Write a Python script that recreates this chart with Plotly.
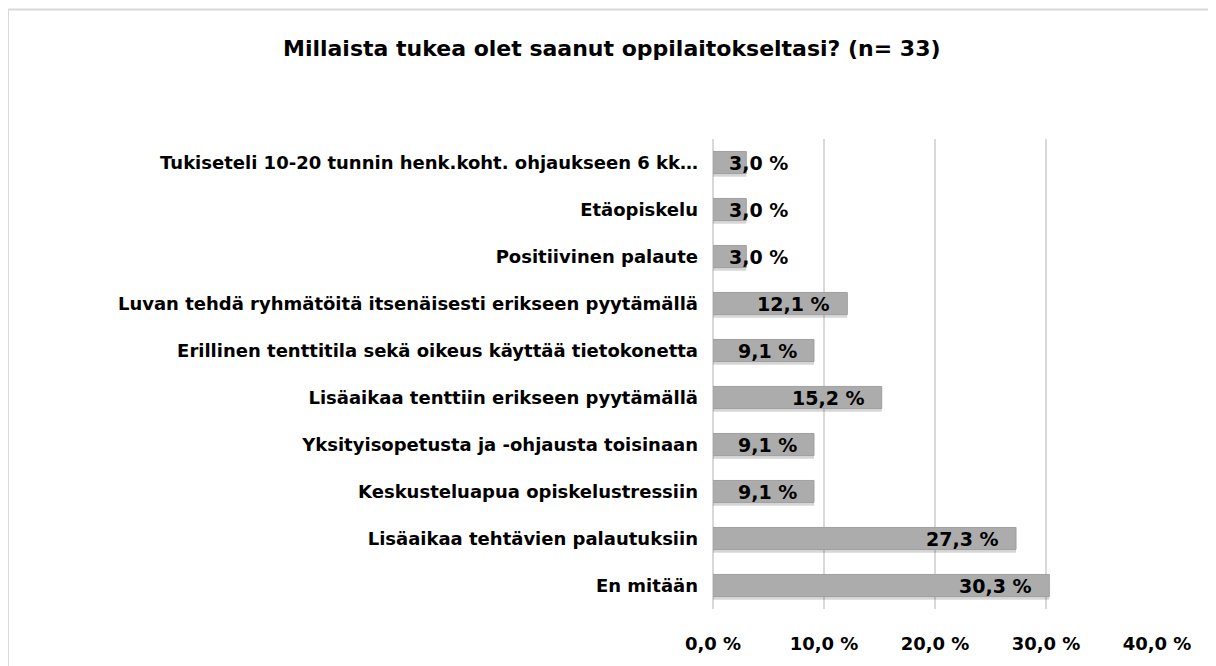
import plotly.graph_objects as go

categories = [
    "Tukiseteli 10-20 tunnin henk.koht. ohjaukseen 6 kk…",
    "Etäopiskelu",
    "Positiivinen palaute",
    "Luvan tehdä ryhmätöitä itsenäisesti erikseen pyytämällä",
    "Erillinen tenttitila sekä oikeus käyttää tietokonetta",
    "Lisäaikaa tenttiin erikseen pyytämällä",
    "Yksityisopetusta ja -ohjausta toisinaan",
    "Keskusteluapua opiskelustressiin",
    "Lisäaikaa tehtävien palautuksiin",
    "En mitään",
]
values = [3.0, 3.0, 3.0, 12.1, 9.1, 15.2, 9.1, 9.1, 27.3, 30.3]
tick_vals = [0, 10, 20, 30, 40]
tick_text = ["0,0 %", "10,0 %", "20,0 %", "30,0 %", "40,0 %"]

FONT = "DejaVu Sans"

# page has an 8px body margin, so the figure is 8px smaller than the window
W, H = 1208, 658
ml, mr, mt, mb = 705, 59, 131, 52
pw, ph = W - ml - mr, H - mt - mb

BW = 0.47
fig = go.Figure()
# soft shadow beneath each bar
fig.add_trace(go.Bar(
    y=categories, x=values, orientation="h",
    width=BW, offset=-BW / 2 + 0.07,
    marker=dict(color="rgba(0,0,0,0.16)", line=dict(width=0)),
    hoverinfo="skip",
))
fig.add_trace(go.Bar(
    y=categories, x=values, orientation="h",
    width=BW, offset=-BW / 2,
    marker=dict(color="#acacac", line=dict(color="#a0a0a0", width=1)),
    hoverinfo="skip",
))

annotations = []
for c, v in zip(categories, values):
    label = "<b>" + f"{v:.1f}".replace(".", ",") + " %</b>"
    if v >= 8:
        annotations.append(dict(x=v, y=c, xref="x", yref="y", text=label,
                                xanchor="right", xshift=-15, showarrow=False,
                                font=dict(family=FONT, size=19, color="#000000")))
    else:
        annotations.append(dict(x=0, y=c, xref="x", yref="y", text=label,
                                xanchor="left", xshift=14, showarrow=False,
                                font=dict(family=FONT, size=19, color="#000000")))

annotations.append(dict(
    x=(W / 2 - ml) / pw, y=(H - 40 - mb) / ph, xref="paper", yref="paper",
    text="<b>Millaista tukea olet saanut oppilaitokseltasi? (n= 33)</b>",
    showarrow=False, xanchor="center", yanchor="middle",
    font=dict(family=FONT, size=22, color="#000000")))

fig.update_layout(
    width=W, height=H,
    margin=dict(l=ml, r=mr, t=mt, b=mb),
    paper_bgcolor="white", plot_bgcolor="white",
    barmode="overlay", showlegend=False,
    annotations=annotations,
    font=dict(family=FONT, color="#000000"),
    shapes=[dict(type="rect", xref="paper", yref="paper",
                 x0=(0 - ml) / pw, x1=(1205 - ml) / pw,
                 y0=(H - 700 - mb) / ph, y1=(H - 0 - mb) / ph,
                 line=dict(color="#d9d9d9", width=2), fillcolor="rgba(0,0,0,0)",
                 layer="below")],
)
fig.update_xaxes(range=[0, 40], tickvals=tick_vals, ticktext=tick_text,
                 showgrid=True, gridcolor="#d9d9d9", gridwidth=2,
                 zeroline=True, zerolinecolor="#d9d9d9", zerolinewidth=2,
                 showline=False, ticks="", ticklabelstandoff=22,
                 tickfont=dict(family=FONT, size=18, color="#000000", weight="bold"))
fig.update_yaxes(autorange="reversed", showgrid=False, ticks="", showline=False,
                 ticklabelstandoff=14,
                 tickfont=dict(family=FONT, size=18, color="#000000", weight="bold"))

fig.write_html("out.html")
